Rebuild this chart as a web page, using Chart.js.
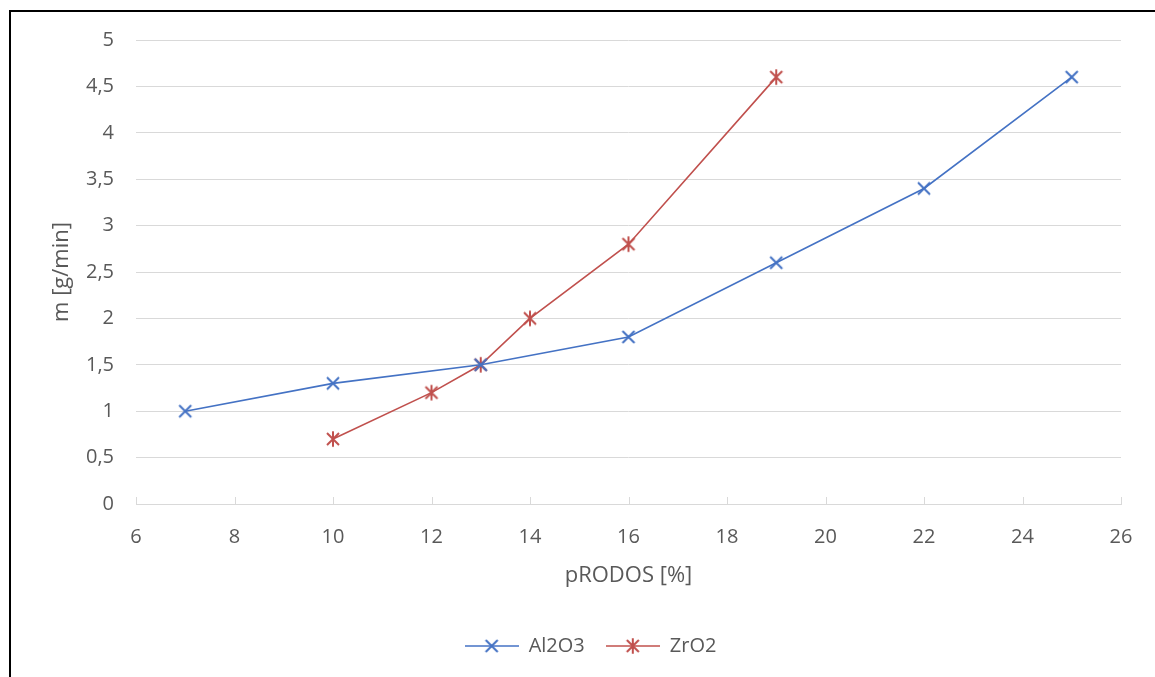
<!DOCTYPE html>
<html>
<head>
<meta charset="utf-8">
<script src="https://cdn.jsdelivr.net/npm/chart.js@4/dist/chart.umd.min.js"></script>
<style>
    body { margin: 0; background: #fff; overflow: hidden; }
    #wrap { position: absolute; left: 0; top: 0; width: 1155px; height: 677px; }
    #marco { position: absolute; left: 9px; top: 10px; width: 1200px; height: 720px; border: 2px solid #000; pointer-events: none; }
</style>
</head>
<body>
<div id="wrap"><canvas id="grafico" width="1155" height="677"></canvas></div>
<div id="marco"></div>
<script>
// Datos del gráfico
const xAl2O3 = [7, 10, 13, 16, 19, 22, 25];
const yAl2O3 = [1, 1.3, 1.5, 1.8, 2.6, 3.4, 4.6];
const xZrO2 = [10, 12, 13, 14, 16, 19];
const yZrO2 = [0.7, 1.2, 1.5, 2, 2.8, 4.6];
const ejeX = [6, 8, 10, 12, 14, 16, 18, 20, 22, 24, 26];
const ejeY = [0, 0.5, 1, 1.5, 2, 2.5, 3, 3.5, 4, 4.5, 5];

const azul = '#4472C4';
const rojo = '#C0504D';
const gris = '#595959';
const rejilla = '#D9D9D9';
const fuente = { family: '"Open Sans", sans-serif', size: 20 };
const fuenteTitulo = { family: '"Open Sans", sans-serif', size: 22 };

// Marcadores personalizados
function dibujarX(ctx, cx, cy, r, color) {
    ctx.strokeStyle = color;
    ctx.lineWidth = 2;
    ctx.beginPath();
    ctx.moveTo(cx - r, cy - r); ctx.lineTo(cx + r, cy + r);
    ctx.moveTo(cx - r, cy + r); ctx.lineTo(cx + r, cy - r);
    ctx.stroke();
}
function dibujarEstrella(ctx, cx, cy, r, color) {
    dibujarX(ctx, cx, cy, r, color);
    ctx.beginPath();
    ctx.moveTo(cx, cy - r * 1.3); ctx.lineTo(cx, cy + r * 1.3);
    ctx.stroke();
}
function marcador(tipo, color, conLinea) {
    const c = document.createElement('canvas');
    c.width = conLinea ? 54 : 18;
    c.height = 18;
    const ctx = c.getContext('2d');
    const cx = c.width / 2, cy = 9;
    if (conLinea) {
        ctx.strokeStyle = color;
        ctx.lineWidth = 1.5;
        ctx.beginPath();
        ctx.moveTo(0, cy); ctx.lineTo(c.width, cy);
        ctx.stroke();
    }
    if (tipo === 'x') dibujarX(ctx, cx, cy, 6, color);
    else dibujarEstrella(ctx, cx, cy, 6, color);
    return c;
}

const puntoAzul = marcador('x', azul, false);
const puntoRojo = marcador('estrella', rojo, false);
const leyendaAzul = marcador('x', azul, true);
const leyendaRojo = marcador('estrella', rojo, true);

// Marcas del eje X hacia arriba
const marcasX = {
    id: 'marcasX',
    afterDraw(chart) {
        const ctx = chart.ctx;
        const esc = chart.scales.x;
        const base = chart.chartArea.bottom;
        ctx.save();
        ctx.strokeStyle = rejilla;
        ctx.lineWidth = 1;
        esc.ticks.forEach(function (t) {
            const px = Math.round(esc.getPixelForValue(t.value)) + 0.5;
            ctx.beginPath();
            ctx.moveTo(px, base);
            ctx.lineTo(px, base - 7);
            ctx.stroke();
        });
        ctx.restore();
    }
};

// Desplazar la leyenda un poco a la derecha, como en el original
const moverLeyenda = {
    id: 'moverLeyenda',
    afterLayout(chart) {
        if (chart.legend) {
            chart.legend.left += 30;
            chart.legend.right += 30;
        }
    }
};

new Chart(document.getElementById('grafico'), {
    type: 'line',
    data: {
        datasets: [
            {
                label: 'Al2O3',
                data: xAl2O3.map((x, i) => ({ x: x, y: yAl2O3[i] })),
                borderColor: azul,
                borderWidth: 1.6,
                pointStyle: puntoAzul,
                pointRadius: 9,
                tension: 0
            },
            {
                label: 'ZrO2',
                data: xZrO2.map((x, i) => ({ x: x, y: yZrO2[i] })),
                borderColor: rojo,
                borderWidth: 1.6,
                pointStyle: puntoRojo,
                pointRadius: 9,
                tension: 0
            }
        ]
    },
    options: {
        responsive: false,
        animation: false,
        layout: { padding: { top: 40, right: 34, left: 0, bottom: 11 } },
        scales: {
            x: {
                type: 'linear',
                min: ejeX[0],
                max: ejeX[ejeX.length - 1],
                afterBuildTicks: function (s) { s.ticks = ejeX.map(v => ({ value: v })); },
                afterFit: function (s) { s.height = 111; },
                grid: { drawOnChartArea: false, drawTicks: false },
                border: { display: true, color: rejilla, width: 1 },
                ticks: { color: gris, font: fuente, padding: 21 },
                title: { display: true, text: 'pRODOS [%]', color: gris, font: fuenteTitulo, padding: { top: 0, bottom: 26 } }
            },
            y: {
                min: ejeY[0],
                max: ejeY[ejeY.length - 1],
                afterBuildTicks: function (s) { s.ticks = ejeY.map(v => ({ value: v })); },
                afterFit: function (s) { s.width = 136; },
                grid: { color: rejilla, drawTicks: false },
                border: { display: false },
                ticks: {
                    color: gris, font: fuente, padding: 22,
                    callback: v => String(v).replace('.', ',')
                },
                title: { display: true, text: 'm [g/min]', color: gris, font: fuenteTitulo, padding: { top: 49, bottom: 0 } }
            }
        },
        plugins: {
            legend: {
                position: 'bottom',
                labels: {
                    color: gris,
                    font: fuente,
                    usePointStyle: true,
                    pointStyleWidth: 54,
                    padding: 21,
                    generateLabels: function (chart) {
                        return [
                            { text: 'Al2O3', pointStyle: leyendaAzul, fillStyle: azul, strokeStyle: azul, lineWidth: 0, datasetIndex: 0, fontColor: gris },
                            { text: 'ZrO2', pointStyle: leyendaRojo, fillStyle: rojo, strokeStyle: rojo, lineWidth: 0, datasetIndex: 1, fontColor: gris }
                        ];
                    }
                }
            },
            tooltip: { enabled: false }
        }
    },
    plugins: [marcasX, moverLeyenda]
});
</script>
</body>
</html>
